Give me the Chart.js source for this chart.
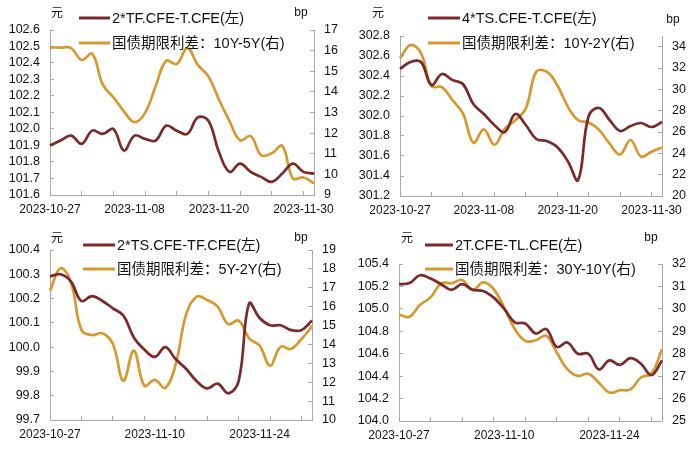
<!DOCTYPE html>
<html>
<head>
<meta charset="utf-8">
<script src="https://cdn.jsdelivr.net/npm/chart.js@4.4.0/dist/chart.umd.min.js"></script>
<style>
body { margin: 0; background: #fff; }
#wrap { position: relative; width: 700px; height: 449px; }
.box { position: absolute; }
</style>
</head>
<body>
<div id="wrap">
  <div class="box" style="left:0;top:0;width:350px;height:224px"><canvas id="c1"></canvas></div>
  <div class="box" style="left:350px;top:0;width:350px;height:224px"><canvas id="c2"></canvas></div>
  <div class="box" style="left:0;top:224px;width:350px;height:225px"><canvas id="c3"></canvas></div>
  <div class="box" style="left:350px;top:224px;width:350px;height:225px"><canvas id="c4"></canvas></div>
</div>
<script>
// trading days
const dates = ['2023-10-27', '2023-10-30', '2023-10-31', '2023-11-01', '2023-11-02', '2023-11-03',
	'2023-11-06', '2023-11-07', '2023-11-08', '2023-11-09', '2023-11-10', '2023-11-13', '2023-11-14',
	'2023-11-15', '2023-11-16', '2023-11-17', '2023-11-20', '2023-11-21', '2023-11-22', '2023-11-23',
	'2023-11-24', '2023-11-27', '2023-11-28', '2023-11-29', '2023-11-30', '2023-12-01'];

// 2*TF - T (left) and 10Y-5Y spread (right)
const tfT = [101.90, 101.93, 101.96, 101.91, 101.99, 101.97, 102.00, 101.87, 101.96, 101.94, 101.93, 102.02, 101.99,
	101.97, 102.07, 102.05, 101.86, 101.74, 101.79, 101.74, 101.71, 101.68, 101.73, 101.79, 101.74, 101.73];
const spr10y5y = [16.15, 16.15, 16.12, 15.55, 15.84, 14.35, 13.74, 13.06, 12.53, 12.98, 14.27, 15.51, 15.35,
	16.12, 15.31, 14.75, 13.63, 12.58, 11.65, 11.86, 10.93, 11.02, 11.38, 9.80, 9.85, 9.56];

// 4*TS - T (left) and 10Y-2Y spread (right)
const tsT = [302.47, 302.54, 302.54, 302.31, 302.42, 302.36, 302.32, 302.12, 302.02, 301.91, 301.84, 302.02, 301.91,
	301.77, 301.75, 301.69, 301.55, 301.36, 302.00, 302.08, 301.96, 301.85, 301.90, 301.93, 301.89, 301.94];
const spr10y2y = [32.9, 34.16, 33.4, 30.3, 30.2, 29.0, 27.75, 25.0, 26.25, 24.8, 26.3, 27.1, 28.2,
	31.65, 31.65, 30.4, 28.4, 27.1, 26.9, 26.2, 24.9, 23.9, 25.25, 23.7, 24.15, 24.55];

// 2*TS - TF (left) and 5Y-2Y spread (right)
const tsTF = [100.29, 100.30, 100.27, 100.19, 100.21, 100.19, 100.16, 100.13, 100.04, 99.99, 99.96, 100.00, 99.95,
	99.91, 99.86, 99.83, 99.85, 99.81, 99.86, 100.18, 100.12, 100.09, 100.09, 100.07, 100.07, 100.11];
const spr5y2y = [16.85, 18.03, 17.29, 14.76, 14.5, 14.59, 14.02, 12.08, 13.67, 11.82, 12.12, 11.7, 12.97,
	15.61, 16.53, 16.35, 16.0, 15.08, 15.26, 14.32, 13.94, 12.88, 13.88, 13.76, 14.29, 14.94];

// 2T - TL (left) and 30Y-10Y spread (right)
const tTL = [105.22, 105.23, 105.30, 105.27, 105.22, 105.17, 105.22, 105.17, 105.16, 105.10, 105.00, 104.88, 104.87,
	104.78, 104.82, 104.66, 104.70, 104.60, 104.60, 104.46, 104.54, 104.50, 104.56, 104.51, 104.41, 104.54];
const spr30y10y = [29.74, 29.65, 30.18, 30.51, 31.14, 31.14, 31.29, 30.84, 31.18, 30.88, 30.06, 29.1, 28.57,
	28.6, 28.8, 28.05, 27.31, 27.01, 27.11, 26.71, 26.27, 26.37, 26.41, 26.94, 27.11, 28.2];

const MAROON = '#7a2a2a';
const GOLD = '#d6992f';
const AXIS = '#a8a8a8';
const FONT = "'Liberation Sans', 'Noto Sans CJK SC', sans-serif";

// units + legend, legend sits over the plot like the excel one
const annot = {
	id: 'annot',
	afterDraw(chart, args, o) {
		const ctx = chart.ctx;
		ctx.save();
		ctx.fillStyle = '#111';
		ctx.textBaseline = 'middle';
		ctx.textAlign = 'center';
		ctx.font = '12px ' + FONT;
		ctx.fillText('元', o.unitL[0], o.unitL[1]);
		ctx.fillText('bp', o.unitR[0], o.unitR[1]);
		ctx.textAlign = 'left';
		ctx.font = '14.5px ' + FONT;
		chart.data.datasets.forEach(function (ds, i) {
			const y = o.rows[i];
			ctx.strokeStyle = ds.borderColor;
			ctx.lineWidth = 3;
			ctx.beginPath();
			ctx.moveTo(o.x, y);
			ctx.lineTo(o.x + o.len, y);
			ctx.stroke();
			ctx.fillText(ds.label, o.x + o.len + 2, y + 1);
		});
		ctx.restore();
	}
};

// excel style: ticks every step from min
function stepTicks(min, max, step) {
	return function (s) {
		const t = [];
		for (let v = min; v <= max + 1e-9; v += step) t.push({ value: +v.toFixed(3) });
		s.ticks = t;
	};
}

function makeChart(id, c) {
	return new Chart(document.getElementById(id), {
		type: 'line',
		data: {
			labels: dates,
			datasets: [
				{ label: c.names[0], data: c.left, borderColor: MAROON, yAxisID: 'y' },
				{ label: c.names[1], data: c.right, borderColor: GOLD, yAxisID: 'y1' }
			]
		},
		options: {
			responsive: true,
			maintainAspectRatio: false,
			animation: false,
			layout: { padding: { top: c.top, left: 0, right: 0, bottom: 0 } },
			elements: {
				point: { radius: 0 },
				line: { borderWidth: 2.7, tension: 0.4, fill: false }
			},
			plugins: { legend: { display: false }, tooltip: { enabled: false }, annot: c.annot },
			scales: {
				x: {
					grid: {
						drawOnChartArea: false,
						tickLength: -4,
						color: (ctx) => (ctx.index % 3 === 0 ? AXIS : 'rgba(0,0,0,0)')
					},
					border: { color: AXIS },
					ticks: {
						autoSkip: false,
						maxRotation: 0,
						padding: 11,
						color: '#111',
						font: { family: FONT, size: 12 },
						callback: (v, i) => (i % c.every === 0 ? dates[i] : '')
					},
					afterFit: (s) => { s.height = c.xh; }
				},
				y: {
					position: 'left',
					min: c.lAxis[0],
					max: c.lAxis[1],
					afterBuildTicks: stepTicks(c.lAxis[0], c.lAxis[1], c.lAxis[2]),
					grid: { drawOnChartArea: false, tickLength: -4, color: AXIS },
					border: { color: AXIS },
					ticks: {
						autoSkip: false,
						padding: 14,
						color: '#111',
						font: { family: FONT, size: 12.5 },
						callback: (v) => v.toFixed(1)
					},
					afterFit: (s) => { s.width = c.lw; }
				},
				y1: {
					position: 'right',
					min: c.rAxis[0],
					max: c.rAxis[1],
					afterBuildTicks: stepTicks(c.rAxis[0], c.rAxis[1], c.rAxis[2]),
					grid: { drawOnChartArea: false, tickLength: -4, color: AXIS },
					border: { color: AXIS },
					ticks: {
						autoSkip: false,
						padding: 14,
						color: '#111',
						font: { family: FONT, size: 12.5 },
						callback: (v) => String(v)
					},
					afterFit: (s) => { s.width = c.rw; }
				}
			}
		},
		plugins: [annot]
	});
}

makeChart('c1', {
	names: ['2*TF.CFE-T.CFE(左)', '国债期限利差：10Y-5Y(右)'],
	left: tfT, right: spr10y5y,
	lAxis: [101.6, 102.6, 0.1], rAxis: [9, 17, 1],
	top: 30, xh: 29, lw: 50, rw: 36, every: 8,
	annot: { unitL: [57, 14], unitR: [301, 13], x: 79, len: 31, rows: [18, 43] }
});

makeChart('c2', {
	names: ['4*TS.CFE-T.CFE(左)', '国债期限利差：10Y-2Y(右)'],
	left: tsT, right: spr10y2y,
	lAxis: [301.2, 302.8, 0.2], rAxis: [20, 35, 2],
	top: 36, xh: 28, lw: 50, rw: 38, every: 8,
	annot: { unitL: [28, 14], unitR: [323, 20], x: 78, len: 32, rows: [18, 43] }
});

makeChart('c3', {
	names: ['2*TS.CFE-TF.CFE(左)', '国债期限利差：5Y-2Y(右)'],
	left: tsTF, right: spr5y2y,
	lAxis: [99.7, 100.4, 0.1], rAxis: [10, 19, 1],
	top: 26, xh: 29, lw: 50, rw: 38, every: 10,
	annot: { unitL: [57, 15], unitR: [301, 14], x: 83, len: 32, rows: [21, 45] }
});

makeChart('c4', {
	names: ['2T.CFE-TL.CFE(左)', '国债期限利差：30Y-10Y(右)'],
	left: tTL, right: spr30y10y,
	lAxis: [104.0, 105.4, 0.2], rAxis: [25, 32, 1],
	top: 40, xh: 28, lw: 49, rw: 38, every: 10,
	annot: { unitL: [57, 15], unitR: [301, 14], x: 75, len: 28, rows: [21, 45] }
});
</script>
</body>
</html>
